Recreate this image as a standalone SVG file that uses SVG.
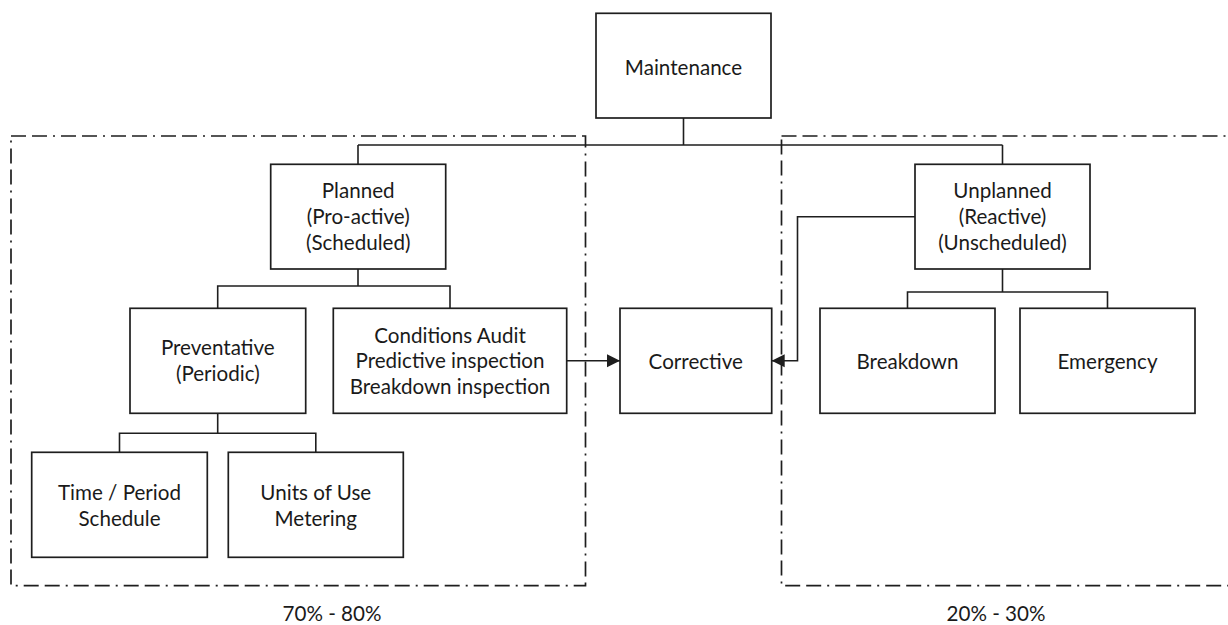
<svg xmlns="http://www.w3.org/2000/svg" width="1228" height="625" viewBox="0 0 1228 625">
<style>
.box{fill:#ffffff;stroke:#1e1e1e;stroke-width:1.7}
.ln{fill:none;stroke:#1e1e1e;stroke-width:1.6}
.zone{fill:none;stroke:#1e1e1e;stroke-width:1.7;stroke-dasharray:15 6 15 6 2 6}
text{font-family:Lato,"Liberation Sans",sans-serif;font-size:20.6px;fill:#1a1a1a;text-anchor:middle}
</style>
<defs>
<marker id="arr" viewBox="0 0 14 14" refX="13" refY="7" markerWidth="14" markerHeight="14" markerUnits="userSpaceOnUse" orient="auto">
<path d="M0,0.5 L13,7 L0,13.5 Z" fill="#1e1e1e"/>
</marker>
</defs>
<rect width="1228" height="625" fill="#ffffff"/>
<g id="zones">
<rect class="zone" x="11" y="136" width="574.5" height="449.7"/>
<rect class="zone" x="781.5" y="136" width="470" height="449.7"/>
</g>
<g id="connectors">
<path class="ln" d="M683.5 118 V145 M358 145 H1002.5 M358 145 V164.3 M1002.5 145 V164.3"/>
<path class="ln" d="M358 269 V286 M217.7 308.3 V286 H450 V308.3"/>
<path class="ln" d="M217.7 413.3 V433.3 M119.5 452.3 V433.3 H315.8 V452.3"/>
<path class="ln" d="M1002.5 269 V292 M907.5 308.3 V292 H1107.5 V308.3"/>
<path class="ln" d="M566.7 360.7 H620" marker-end="url(#arr)"/>
<path class="ln" d="M915 216.7 H797.5 V360.7 H771.7" marker-end="url(#arr)"/>
</g>
<g id="maintenance">
<rect class="box" x="596" y="13.3" width="175" height="104.7"/>
<text x="683.5" y="75">Maintenance</text>
</g>
<g id="planned">
<rect class="box" x="270.7" y="164.3" width="175" height="104.7"/>
<text x="358.2" y="198.3">Planned</text>
<text x="358.2" y="224">(Pro-active)</text>
<text x="358.2" y="250">(Scheduled)</text>
</g>
<g id="unplanned">
<rect class="box" x="915" y="164.3" width="175" height="104.7"/>
<text x="1002.5" y="198.3">Unplanned</text>
<text x="1002.5" y="224">(Reactive)</text>
<text x="1002.5" y="250">(Unscheduled)</text>
</g>
<g id="preventative">
<rect class="box" x="130" y="308.3" width="175.7" height="105"/>
<text x="217.8" y="355">Preventative</text>
<text x="217.8" y="381">(Periodic)</text>
</g>
<g id="conditions">
<rect class="box" x="333.3" y="308.3" width="233.4" height="105"/>
<text x="450" y="342.7">Conditions Audit</text>
<text x="450" y="368.3">Predictive inspection</text>
<text x="450" y="394">Breakdown inspection</text>
</g>
<g id="corrective">
<rect class="box" x="620" y="308.3" width="151.7" height="105"/>
<text x="695.8" y="369">Corrective</text>
</g>
<g id="breakdown">
<rect class="box" x="820" y="308.3" width="175" height="105"/>
<text x="907.5" y="369">Breakdown</text>
</g>
<g id="emergency">
<rect class="box" x="1020" y="308.3" width="175" height="105"/>
<text x="1107.5" y="369">Emergency</text>
</g>
<g id="time">
<rect class="box" x="31.7" y="452.3" width="175.6" height="105"/>
<text x="119.5" y="500">Time / Period</text>
<text x="119.5" y="526">Schedule</text>
</g>
<g id="units">
<rect class="box" x="228.3" y="452.3" width="175" height="105"/>
<text x="315.8" y="500">Units of Use</text>
<text x="315.8" y="526">Metering</text>
</g>
<g id="labels">
<text x="332" y="621">70% - 80%</text>
<text x="996" y="621">20% - 30%</text>
</g>
</svg>
